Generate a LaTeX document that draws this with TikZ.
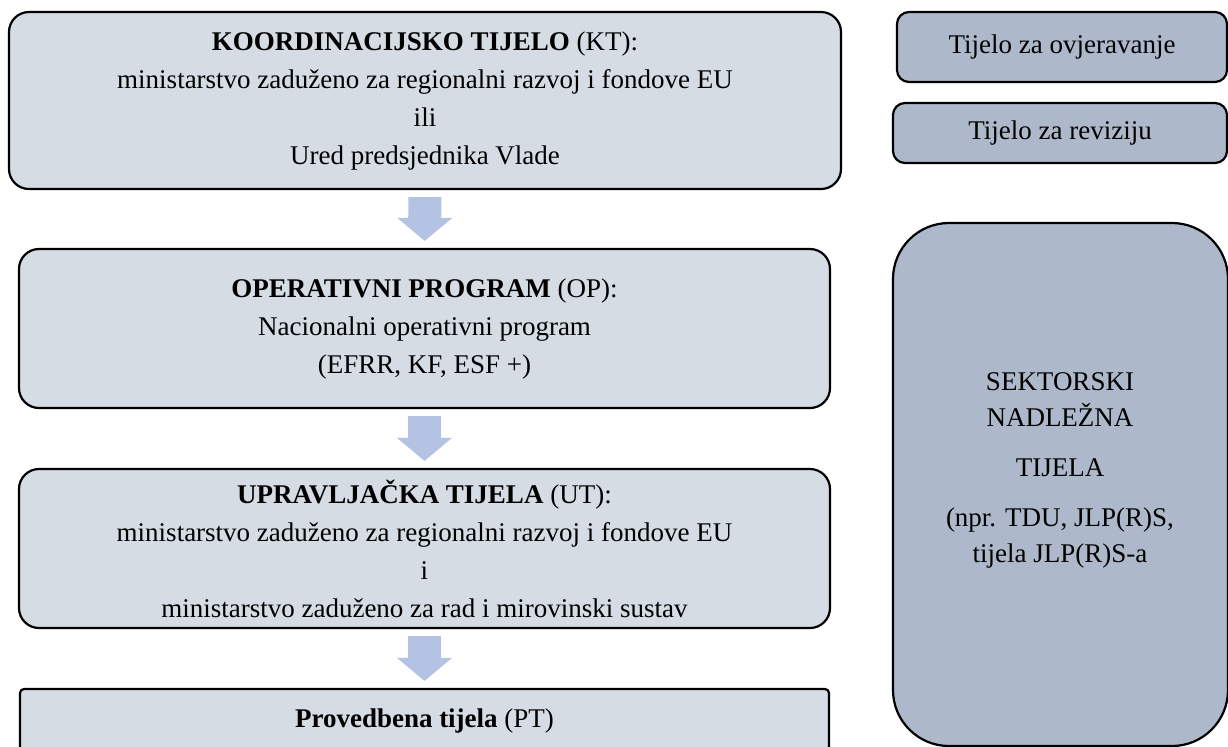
\documentclass[tikz,border=0pt]{standalone}
\usepackage{fontspec}
\setmainfont{Liberation Serif}
\usetikzlibrary{arrows.meta,positioning}
\definecolor{boxfill}{HTML}{D6DCE4}
\definecolor{sidefill}{HTML}{ADB9CA}
\definecolor{arrowfill}{HTML}{B4C2E4}

\begin{document}
\begin{tikzpicture}[x=0.5pt,y=-0.5pt,
    mainbox/.style={draw=black,line width=1.1pt,fill=boxfill,rounded
        corners=10pt,align=center,inner sep=0pt,
        font=\fontsize{13.5}{19}\selectfont},
    sidebox/.style={draw=black,line width=1.1pt,fill=sidefill,rounded
        corners=6pt,align=center,inner sep=0pt,font=\fontsize{13.5}{18}\selectfont},
    flow/.style={draw=arrowfill,line width=16.5pt,shorten <=3.5pt,shorten
        >=3.5pt,-{Triangle[width=27.5pt,length=11.5pt,line width=0pt,fill=arrowfill]}}]

    \useasboundingbox (0,0) rectangle (1228,746);

    \node[mainbox,minimum width=416pt,minimum height=88.5pt] (kt) at (425,100.5)
        {\textbf{KOORDINACIJSKO TIJELO} (KT):\\
         ministarstvo zaduženo za regionalni razvoj i fondove EU\\
         ili\\
         Ured predsjednika Vlade};
    \node[mainbox,minimum width=405.5pt,minimum height=79.5pt] (op) at (424.5,328.5)
        {\textbf{OPERATIVNI PROGRAM} (OP):\\
         Nacionalni operativni program\\
         (EFRR, KF, ESF +)};
    \node[mainbox,minimum width=405.5pt,minimum height=79.5pt] (ut) at (424.5,548.5)
        {\textbf{UPRAVLJAČKA TIJELA} (UT):\\
         ministarstvo zaduženo za regionalni razvoj i fondove EU\\
         i\\
         ministarstvo zaduženo za rad i mirovinski sustav};
    \node[mainbox,rounded corners=2pt,minimum width=404.5pt,minimum height=50pt] (pt) at (424.5,739) {};
    \node[font=\fontsize{13.5}{19}\selectfont] (pttxt) at (424.5,721) {\textbf{Provedbena tijela} (PT)};

    \node[sidebox,minimum width=165pt,minimum height=35pt] (ovj) at (1062,47) {Tijelo za ovjeravanje};
    \node[sidebox,minimum width=167pt,minimum height=30pt] (rev) at (1060,133) {Tijelo za reviziju};
    \node[sidebox,rounded corners=28pt,minimum width=167.5pt,minimum height=261.5pt] (sek) at (1060.5,484.5) {};
    \node[align=center,font=\fontsize{13.5}{18}\selectfont] (sektxt) at (1060,470)
        {SEKTORSKI\\NADLEŽNA\\[7pt]TIJELA\\[7pt](npr. TDU, JLP(R)S,\\tijela JLP(R)S-a};

    \draw[flow] (kt) -- (op);
    \draw[flow] (op) -- (ut);
    \draw[flow] (ut) -- (pt);

\end{tikzpicture}
\end{document}
